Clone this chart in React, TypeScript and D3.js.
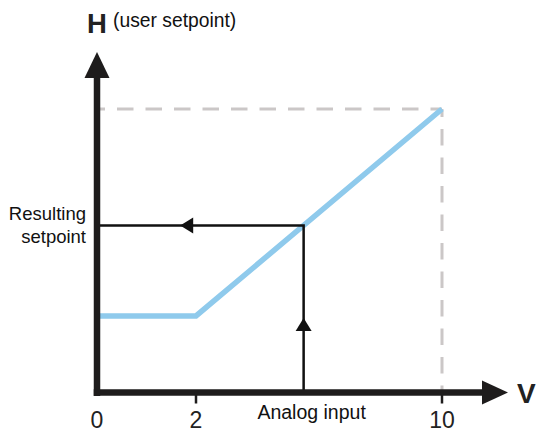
import React from 'react';
import * as d3 from 'd3';

// input voltage ticks and the characteristic curve
const tickValues = [0, 2, 10];
const tickLabels = ['0', '2', '10'];
const curveV = [0, 2, 10];
const curveH = [2.7, 2.7, 10];
const hMax = 10;
const inputValue = 5.5;

const width = 536;
const height = 432;
const font = '"Liberation Sans", Arial, sans-serif';
const axisColor = '#1e1c1c';
const blue = '#8fcaec';
const dashColor = '#cbc7c7';

const App: React.FC = () => {
  // schematic x axis: 0..2 is stretched compared with 2..10
  const x = d3.scaleLinear().domain(tickValues).range([97, 196, 442]);
  const y = d3.scaleLinear().domain([0, hMax]).range([392.5, 109]);

  const hOf = d3.scaleLinear().domain(curveV).range(curveH);
  const resulting = hOf(inputValue);

  const line = d3.line<[number, number]>()
    .x(d => x(d[0]))
    .y(d => y(d[1]));
  const curve = curveV.map((v, i) => [v, curveH[i]] as [number, number]);

  const x0 = x(0);
  const y0 = y(0);
  const xIn = x(inputValue);
  const yRes = y(resulting);

  // arrow heads along the reading path
  const upTip = y(2.63);
  const leftTip = x(1.68);

  return (
    <svg width={width} height={height} style={{ position: 'absolute', left: 0, top: 0 }}>
      {/* dashed guides to the maximum */}
      <line x1={x0} x2={x(10)} y1={y(hMax)} y2={y(hMax)} stroke={dashColor}
        strokeWidth={3} strokeDasharray="16.5 12" strokeDashoffset={8.5} />
      <line x1={x(10)} x2={x(10)} y1={y(hMax)} y2={y0} stroke={dashColor}
        strokeWidth={3} strokeDasharray="16.5 12" strokeDashoffset={8.5} />

      {/* characteristic */}
      <path d={line(curve) || ''} fill="none" stroke={blue} strokeWidth={5.5} strokeLinejoin="miter" />

      {/* reading path */}
      <path d={`M${xIn},${y0}V${yRes}H${x0}`} fill="none" stroke="#111" strokeWidth={2.5} />
      <path d={`M${xIn},${upTip}L${xIn - 8},${upTip + 13}L${xIn + 8},${upTip + 13}Z`} fill="#111" />
      <path d={`M${leftTip},${yRes}L${leftTip + 13},${yRes - 8}L${leftTip + 13},${yRes + 8}Z`} fill="#111" />

      {/* axes */}
      <line x1={x0} x2={x0} y1={y0 + 3.5} y2={76} stroke={axisColor} strokeWidth={6.5} />
      <path d={`M${x0},52L${x0 - 12.5},78L${x0 + 12.5},78Z`} fill={axisColor} />
      <line x1={x0 - 3.25} x2={484} y1={y0} y2={y0} stroke={axisColor} strokeWidth={6.5} />
      <path d={`M508,${y0}L482,${y0 - 12}L482,${y0 + 12}Z`} fill={axisColor} />

      {tickValues.slice(1).map(v => (
        <line key={v} x1={x(v)} x2={x(v)} y1={y0} y2={y0 + 11} stroke={axisColor} strokeWidth={2.5} />
      ))}
      {tickValues.map((v, i) => (
        <text key={v} x={x(v)} y={428} textAnchor="middle" fontFamily={font} fontSize={23} fill="#222">
          {tickLabels[i]}
        </text>
      ))}

      <text x={xIn + 8} y={419} textAnchor="middle" fontFamily={font} fontSize={19.5} fill="#111">Analog input</text>
      <text x={517} y={403} fontFamily={font} fontSize={28} fontWeight="bold" fill="#222">V</text>

      <text x={87} y={33} fontFamily={font} fontSize={27.5} fontWeight="bold" fill="#222">H</text>
      <text x={113} y={27} fontFamily={font} fontSize={19.3} fill="#111">(user setpoint)</text>

      <text x={86} y={yRes - 5} textAnchor="end" fontFamily={font} fontSize={18.5} fill="#111">Resulting</text>
      <text x={86} y={yRes + 18} textAnchor="end" fontFamily={font} fontSize={18.5} fill="#111">setpoint</text>
    </svg>
  );
};

export default App;
